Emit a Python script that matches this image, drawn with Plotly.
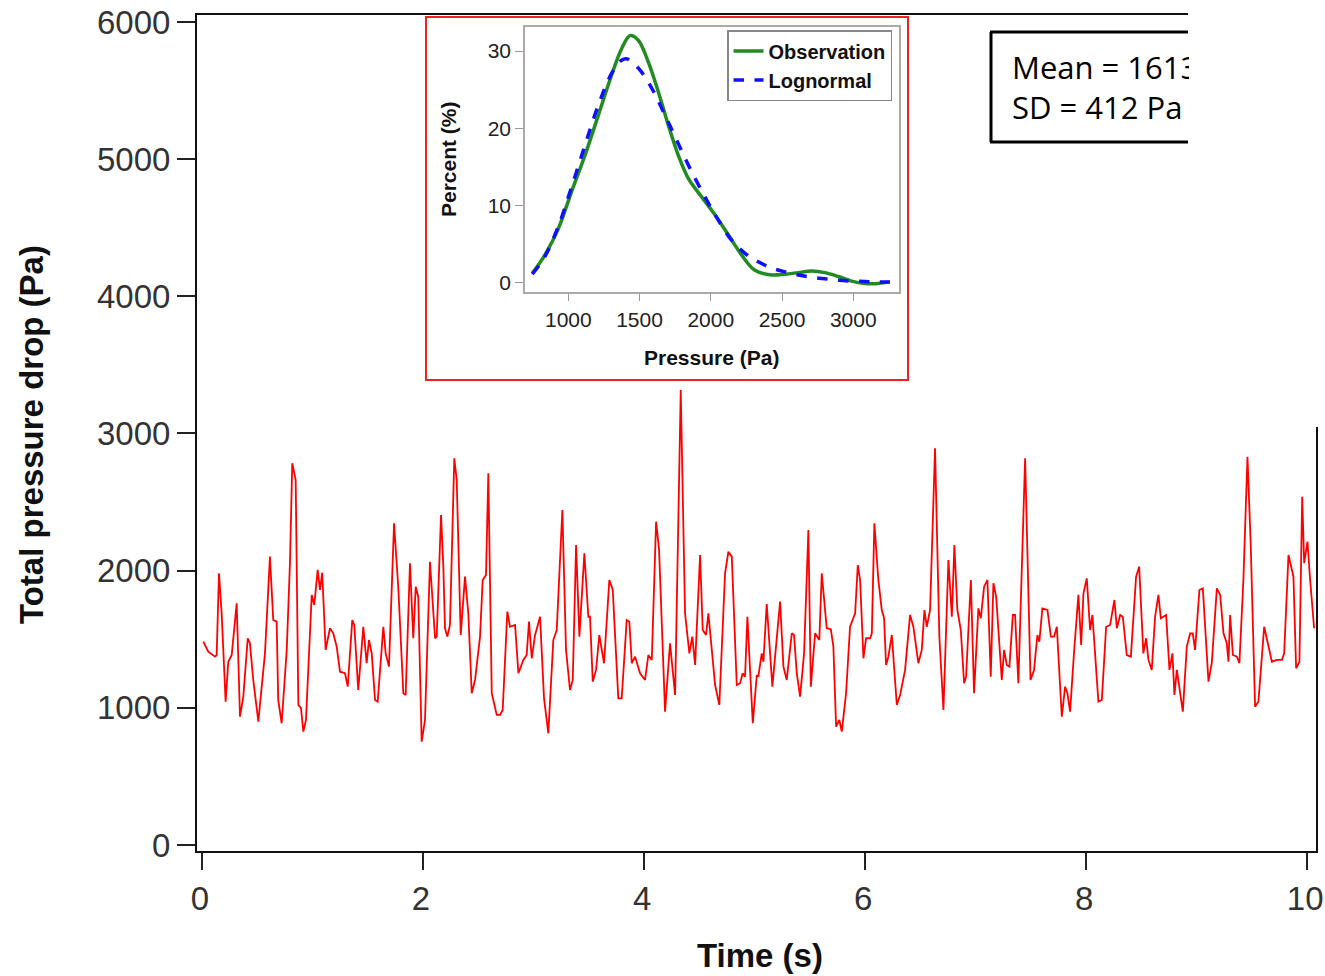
import plotly.graph_objects as go

# main time series
time_s = [
    0.012, 0.057, 0.118, 0.133, 0.154, 0.178, 0.214, 0.238, 0.269, 0.314, 0.344, 0.374, 0.414, 0.434,
    0.464, 0.510, 0.570, 0.615, 0.645, 0.676, 0.690, 0.721, 0.767, 0.796, 0.817, 0.848, 0.872, 0.896,
    0.917, 0.941, 0.993, 1.016, 1.047, 1.068, 1.088, 1.119, 1.158, 1.188, 1.219, 1.249, 1.294, 1.319,
    1.360, 1.378, 1.414, 1.460, 1.490, 1.511, 1.536, 1.566, 1.590, 1.641, 1.662, 1.692, 1.738, 1.776,
    1.822, 1.843, 1.882, 1.912, 1.934, 1.957, 1.988, 2.018, 2.063, 2.109, 2.124, 2.163, 2.184, 2.199,
    2.220, 2.244, 2.283, 2.305, 2.341, 2.380, 2.410, 2.441, 2.471, 2.516, 2.540, 2.570, 2.591, 2.622,
    2.667, 2.697, 2.721, 2.763, 2.787, 2.833, 2.863, 2.908, 2.938, 2.959, 2.984, 3.014, 3.059, 3.095,
    3.134, 3.179, 3.210, 3.261, 3.294, 3.330, 3.355, 3.385, 3.415, 3.460, 3.496, 3.511, 3.536, 3.566,
    3.595, 3.638, 3.686, 3.717, 3.767, 3.798, 3.843, 3.867, 3.889, 3.919, 3.964, 4.009, 4.039, 4.070,
    4.109, 4.136, 4.190, 4.235, 4.281, 4.332, 4.371, 4.410, 4.437, 4.462, 4.507, 4.531, 4.561, 4.582,
    4.643, 4.681, 4.733, 4.763, 4.794, 4.839, 4.869, 4.893, 4.914, 4.935, 4.984, 5.020, 5.034, 5.065,
    5.080, 5.110, 5.161, 5.201, 5.231, 5.261, 5.291, 5.337, 5.357, 5.382, 5.412, 5.448, 5.487, 5.509,
    5.548, 5.586, 5.608, 5.653, 5.690, 5.713, 5.738, 5.767, 5.789, 5.828, 5.864, 5.910, 5.934, 5.955,
    5.985, 6.009, 6.045, 6.061, 6.084, 6.120, 6.151, 6.172, 6.190, 6.211, 6.242, 6.287, 6.317, 6.362,
    6.407, 6.437, 6.482, 6.513, 6.537, 6.558, 6.588, 6.633, 6.672, 6.709, 6.754, 6.785, 6.808, 6.835,
    6.866, 6.896, 6.914, 6.957, 6.986, 7.025, 7.047, 7.077, 7.107, 7.137, 7.161, 7.186, 7.237, 7.258,
    7.282, 7.306, 7.337, 7.357, 7.387, 7.448, 7.497, 7.529, 7.559, 7.577, 7.604, 7.650, 7.681, 7.710,
    7.735, 7.780, 7.810, 7.831, 7.855, 7.891, 7.930, 7.955, 7.976, 8.006, 8.036, 8.057, 8.111, 8.142,
    8.181, 8.217, 8.256, 8.278, 8.308, 8.332, 8.368, 8.405, 8.452, 8.480, 8.518, 8.543, 8.564, 8.594,
    8.624, 8.654, 8.676, 8.724, 8.754, 8.781, 8.799, 8.821, 8.875, 8.911, 8.941, 8.965, 8.986, 9.025,
    9.056, 9.107, 9.137, 9.183, 9.213, 9.243, 9.273, 9.288, 9.303, 9.328, 9.364, 9.387, 9.423, 9.460,
    9.490, 9.529, 9.559, 9.611, 9.641, 9.681, 9.726, 9.771, 9.792, 9.831, 9.876, 9.900, 9.930, 9.955,
    9.973, 10.003, 10.027, 10.063,
]
pressure_pa = [
    1482, 1409, 1373, 1385, 1981, 1689, 1045, 1336, 1385, 1762, 935, 1081, 1507, 1470,
    1203, 899, 1397, 2102, 1640, 1628, 1057, 887, 1422, 2054, 2783, 2661, 1021, 997,
    826, 911, 1823, 1750, 2005, 1859, 1985, 1422, 1580, 1543, 1446, 1263, 1252, 1154,
    1640, 1604, 1130, 1591, 1325, 1494, 1397, 1057, 1045, 1591, 1397, 1300, 2345, 1883,
    1106, 1094, 2054, 1507, 1883, 1810, 753, 911, 2065, 1507, 1519, 2406, 2029, 1580,
    1519, 1604, 2819, 2661, 1531, 1956, 1689, 1106, 1203, 1519, 1932, 1968, 2710, 1106,
    948, 948, 984, 1701, 1591, 1604, 1252, 1349, 1385, 1628, 1361, 1531, 1664, 1069,
    814, 1494, 1567, 2442, 1422, 1130, 1203, 2187, 1519, 2127, 1664, 1664, 1191, 1276,
    1531, 1325, 1932, 1859, 1069, 1069, 1640, 1628, 1325, 1373, 1252, 1203, 1385, 1349,
    2357, 2151, 972, 1470, 1094, 3317, 1689, 1397, 1519, 1312, 2114, 1567, 1531, 1689,
    1166, 1021, 1981, 2138, 2102, 1166, 1179, 1252, 1227, 1664, 887, 1239, 1227, 1397,
    1336, 1757, 1154, 1494, 1774, 1300, 1203, 1543, 1531, 1252, 1081, 1397, 2296, 1154,
    1543, 1494, 1981, 1580, 1573, 1446, 862, 911, 826, 1106, 1591, 1689, 2041, 1932,
    1361, 1507, 1507, 1543, 2345, 1932, 1713, 1653, 1312, 1373, 1531, 1021, 1094, 1276,
    1677, 1591, 1325, 1422, 1713, 1591, 1713, 2892, 1519, 984, 2078, 1664, 2187, 1713,
    1567, 1179, 1227, 1932, 1106, 1725, 1653, 1883, 1932, 1227, 1908, 1810, 1203, 1422,
    1312, 1300, 1677, 1677, 1179, 2819, 1203, 1276, 1531, 1482, 1725, 1713, 1519, 1519,
    1591, 935, 1154, 1106, 972, 1409, 1823, 1458, 1835, 1944, 1567, 1677, 1045, 1057,
    1591, 1604, 1786, 1580, 1677, 1664, 1385, 1373, 1956, 2029, 1397, 1507, 1349, 1276,
    1664, 1823, 1653, 1677, 1276, 1397, 1094, 1276, 972, 1446, 1543, 1543, 1422, 1859,
    1871, 1191, 1325, 1871, 1823, 1543, 1470, 1336, 1677, 1385, 1373, 1325, 1932, 2831,
    2175, 1008, 1045, 1591, 1470, 1336, 1349, 1349, 1397, 2114, 1956, 1288, 1336, 2539,
    2054, 2211, 1932, 1580,
]

# inset: distribution of pressure
obs_x = [747, 836, 930, 1023, 1117, 1211, 1304, 1374, 1433, 1491, 1561, 1632, 1702, 1772, 1842,
         1936, 2029, 2123, 2216, 2310, 2427, 2520, 2614, 2707, 2801, 2895, 2988, 3082, 3175, 3257]
obs_pct = [1.2, 3.6, 7.0, 11.8, 16.5, 21.7, 26.9, 30.3, 32.0, 31.4, 28.6, 24.7, 20.4, 16.5, 13.5,
           11.1, 8.8, 6.2, 3.6, 1.6, 1.0, 1.1, 1.3, 1.5, 1.3, 0.8, 0.2, -0.1, -0.1, 0.1]
logn_x = [747, 836, 930, 1023, 1117, 1211, 1304, 1374, 1409, 1491, 1585, 1678, 1772, 1865, 1959,
          2053, 2146, 2240, 2333, 2427, 2520, 2614, 2707, 2801, 2895, 2988, 3082, 3175, 3257]
logn_pct = [1.1, 3.4, 7.3, 12.4, 17.8, 23.0, 27.1, 28.8, 29.0, 27.8, 25.2, 21.7, 18.0, 14.4, 11.1,
            8.1, 5.5, 3.8, 2.7, 1.9, 1.4, 1.0, 0.7, 0.5, 0.3, 0.2, 0.15, 0.1, 0.1]

main_x_ticks = [0, 2, 4, 6, 8, 10]
main_y_ticks = [0, 1000, 2000, 3000, 4000, 5000, 6000]
inset_x_ticks = [1000, 1500, 2000, 2500, 3000]
inset_y_ticks = [0, 10, 20, 30]
stats_text = "Mean = 1613 Pa<br>SD = 412 Pa"

W, H = 1325, 976
L, R, T, B = 197, 1316, 15, 851


def px(x):
    return (x - L) / (R - L)


def py(y):
    return (B - y) / (B - T)


fig = go.Figure()

fig.add_trace(go.Scatter(x=time_s, y=pressure_pa, mode="lines",
                         line=dict(color="#ff0000", width=1.8), showlegend=False))

fig.add_trace(go.Scatter(x=obs_x, y=obs_pct, mode="lines", name="Observation",
                         line=dict(color="#228b22", width=3.5, shape="spline"),
                         xaxis="x2", yaxis="y2"))
fig.add_trace(go.Scatter(x=logn_x, y=logn_pct, mode="lines", name="Lognormal",
                         line=dict(color="#1010ff", width=3.5, dash="dash", shape="spline"),
                         xaxis="x2", yaxis="y2"))

arial = "Liberation Sans, Arial"

fig.update_layout(
    width=W, height=H,
    margin=dict(l=L, r=W - R, t=T, b=H - B, autoexpand=False),
    paper_bgcolor="white", plot_bgcolor="white",
    xaxis=dict(range=[-0.045, 10.08], tickvals=main_x_ticks, ticks="outside", ticklen=17,
               tickwidth=1.5, tickcolor="#222", showline=True, linecolor="#111", linewidth=2,
               mirror=True, showgrid=False, zeroline=False, ticklabeloverflow="allow",
               ticklabelshift=-2,
               tickfont=dict(family=arial, size=33, color="#333")),
    yaxis=dict(range=[-44, 6051], tickvals=main_y_ticks, tickformat="d", ticks="outside",
               ticklen=18, tickwidth=1.5, tickcolor="#222", showline=True, linecolor="#111",
               linewidth=2, mirror=True, showgrid=False, zeroline=False,
               tickfont=dict(family=arial, size=33, color="#333")),
    xaxis2=dict(domain=[px(525), px(899)], anchor="y2", range=[696, 3321],
                tickvals=inset_x_ticks, ticks="outside", ticklen=8, tickcolor="#999",
                showline=True, linecolor="#aaa", linewidth=1.5, mirror=True,
                showgrid=False, zeroline=False,
                tickfont=dict(family=arial, size=21, color="#222")),
    yaxis2=dict(domain=[py(291.7), py(26.7)], anchor="x2", range=[-1.17, 33.15],
                tickvals=inset_y_ticks, ticks="outside", ticklen=8, tickcolor="#999",
                showline=True, linecolor="#aaa", linewidth=1.5, mirror=True,
                showgrid=False, zeroline=False,
                tickfont=dict(family=arial, size=21, color="#222")),
    legend=dict(x=px(727), y=py(30), xanchor="left", yanchor="top",
                bgcolor="white", bordercolor="#888", borderwidth=1.5,
                font=dict(family=arial, size=20, color="#111", weight="bold"),
                tracegroupgap=0),
)

shapes = [
    # blank the top-right corner of the frame
    dict(type="rect", xref="paper", yref="paper", x0=px(1188), x1=px(1330),
         y0=py(427), y1=py(-5), fillcolor="white", line=dict(width=0), layer="above"),
    # red border round the inset
    dict(type="rect", xref="paper", yref="paper", x0=px(426), x1=px(908),
         y0=py(380), y1=py(17), line=dict(color="#ee2222", width=2), layer="above"),
    # stats box border (open on the right)
    dict(type="line", xref="paper", yref="paper", x0=px(991), x1=px(991),
         y0=py(142), y1=py(32), line=dict(color="black", width=3), layer="above"),
    dict(type="line", xref="paper", yref="paper", x0=px(990), x1=px(1188),
         y0=py(32), y1=py(32), line=dict(color="black", width=3), layer="above"),
    dict(type="line", xref="paper", yref="paper", x0=px(990), x1=px(1188),
         y0=py(142), y1=py(142), line=dict(color="black", width=3), layer="above"),
]
fig.update_layout(shapes=shapes)

annotations = [
    dict(text="Total pressure drop (Pa)", xref="paper", yref="paper", x=px(31), y=py(435),
         textangle=-90, showarrow=False, xanchor="center", yanchor="middle",
         font=dict(family=arial, size=33, color="#111", weight="bold")),
    dict(text="Time (s)", xref="paper", yref="paper", x=px(760), y=py(955),
         showarrow=False, xanchor="center", yanchor="middle",
         font=dict(family=arial, size=33, color="#111", weight="bold")),
    dict(text="Pressure (Pa)", xref="paper", yref="paper", x=px(711), y=py(357),
         showarrow=False, xanchor="center", yanchor="middle",
         font=dict(family=arial, size=21, color="#111", weight="bold")),
    dict(text="Percent (%)", xref="paper", yref="paper", x=px(448), y=py(159),
         textangle=-90, showarrow=False, xanchor="center", yanchor="middle",
         font=dict(family=arial, size=21, color="#111", weight="bold")),
    dict(text=stats_text, xref="paper", yref="paper", x=px(1011), y=py(87),
         showarrow=False, xanchor="left", yanchor="middle", align="left",
         width=177, borderpad=0,
         font=dict(family="Open Sans", size=31, color="black")),
]
fig.update_layout(annotations=annotations)

# drop the browser's default 8px body margin so the page lines up with the figure
fig.write_html("out.html", config={"displayModeBar": False},
               post_script="document.body.style.margin='0';")
